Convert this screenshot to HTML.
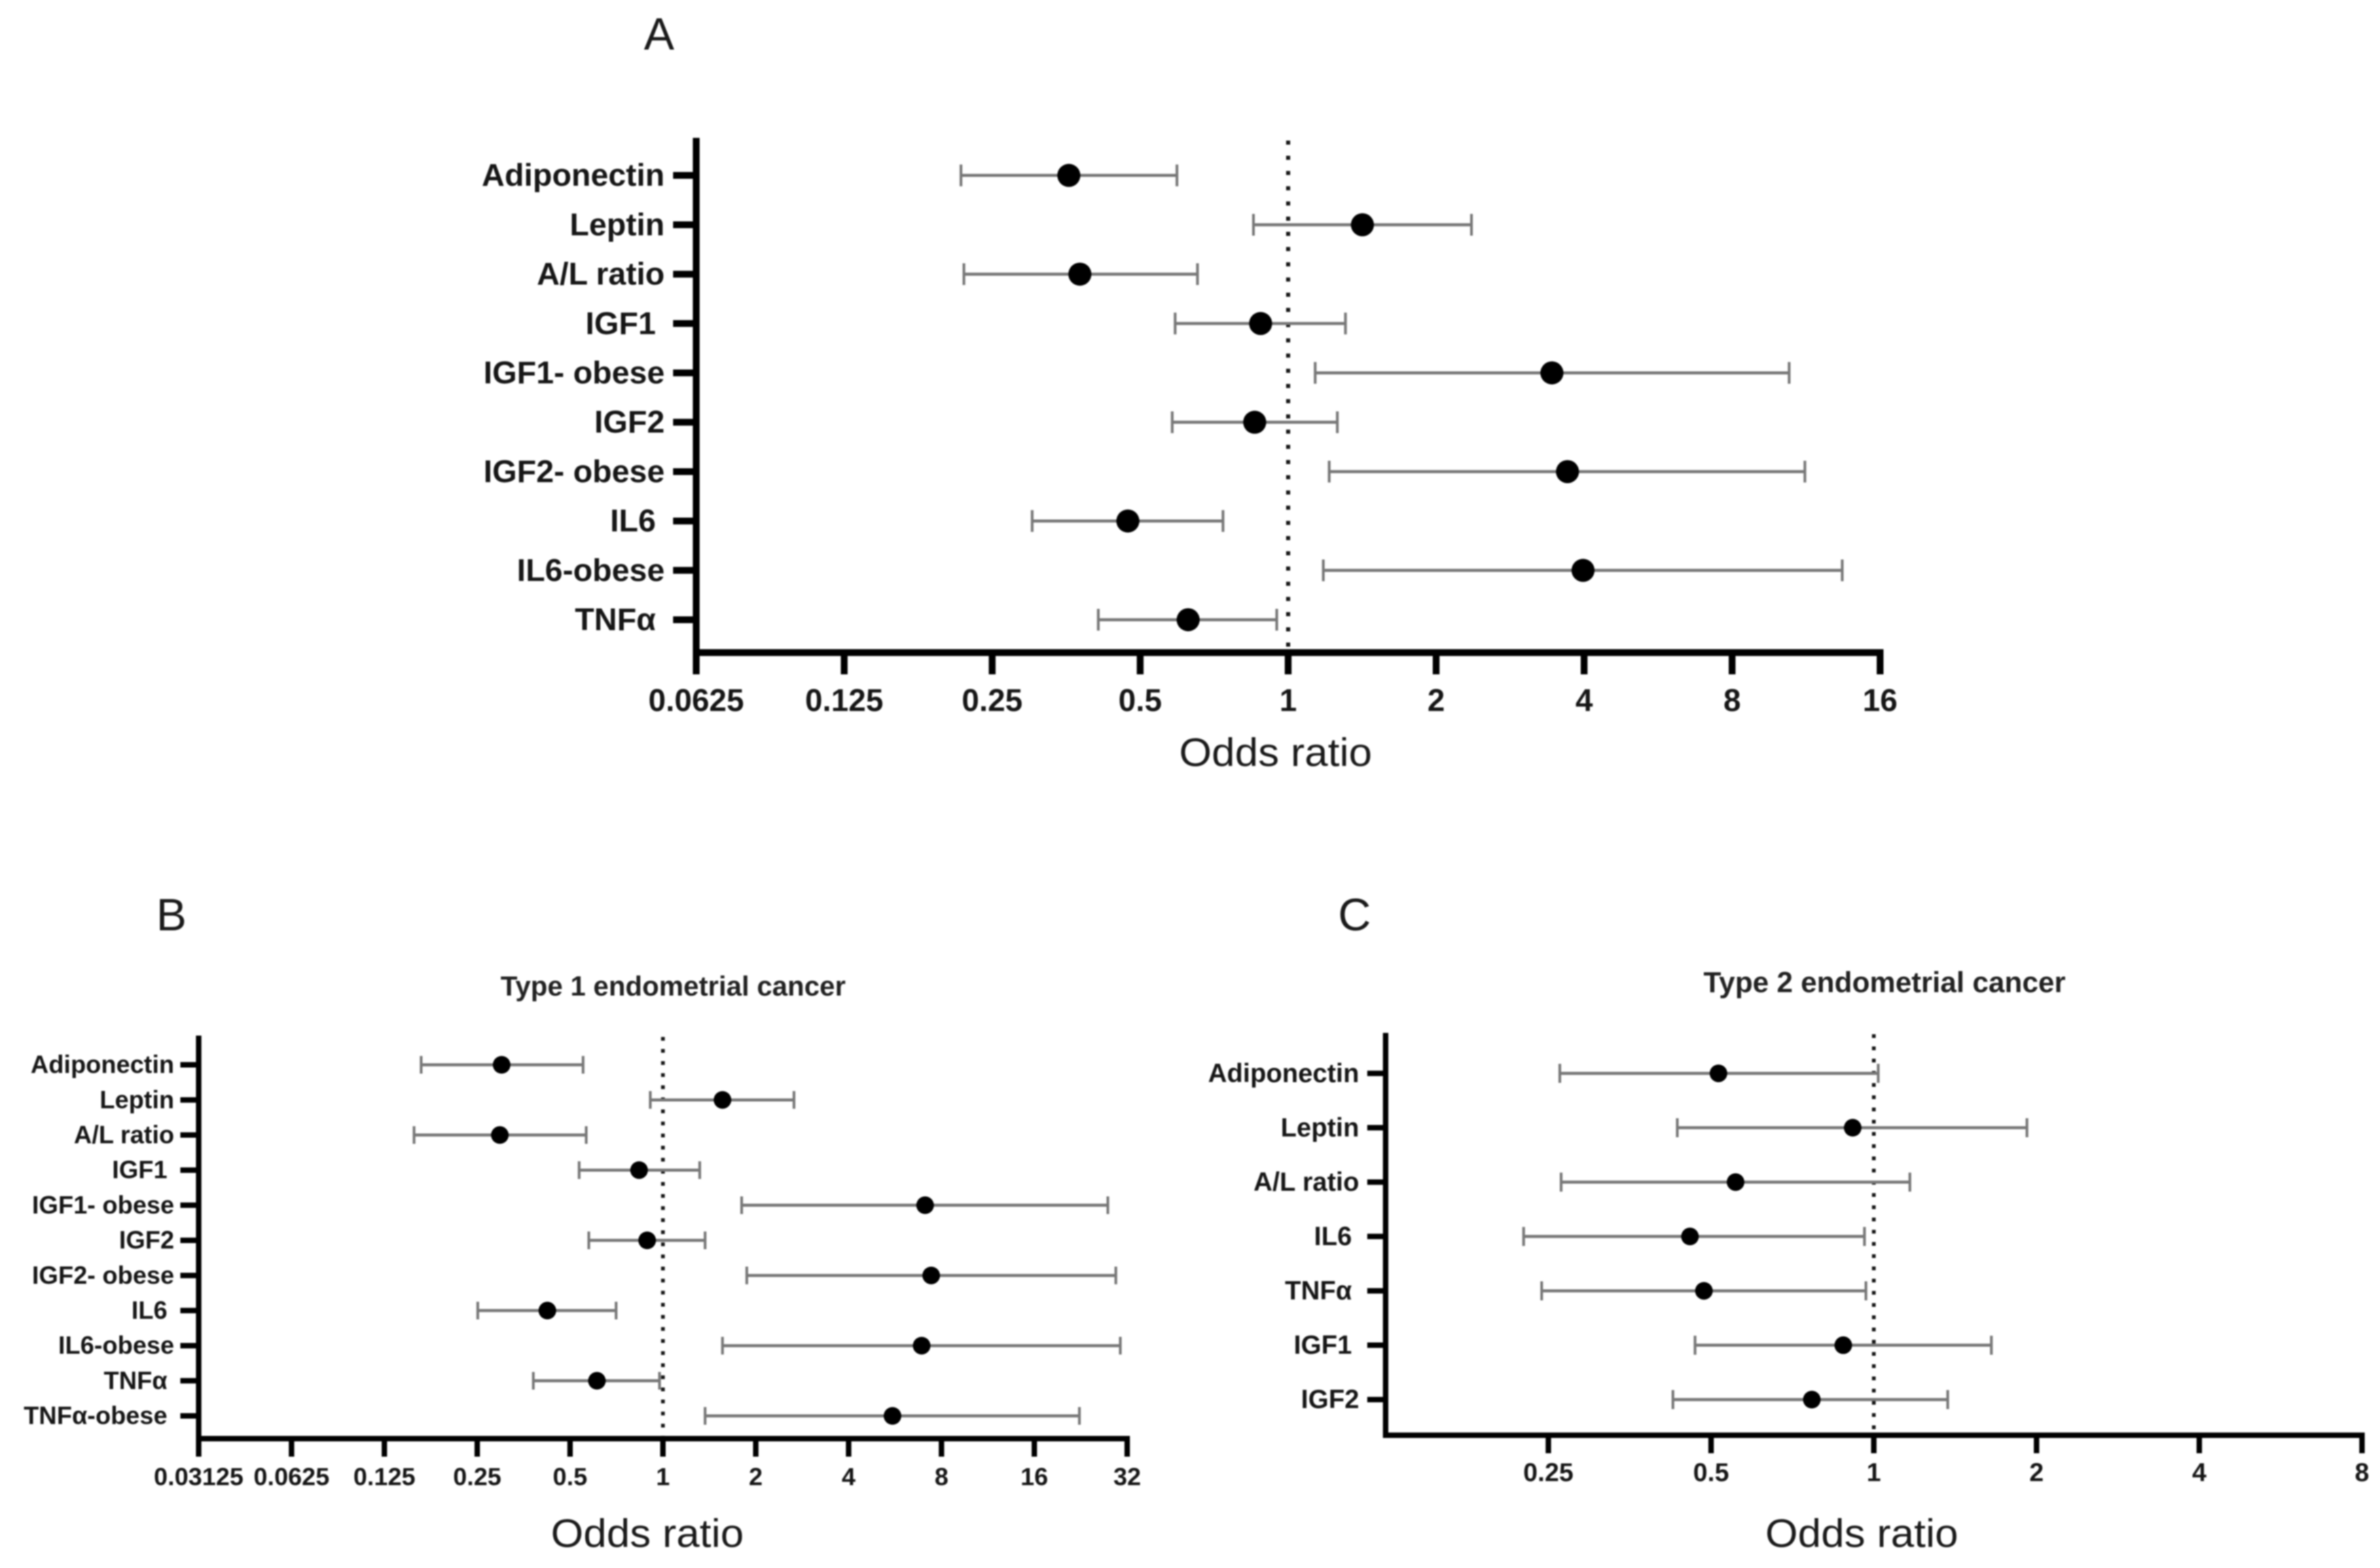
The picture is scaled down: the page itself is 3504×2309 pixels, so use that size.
<!DOCTYPE html>
<html lang="en">
<head>
<meta charset="utf-8">
<title>Odds ratio forest plots</title>
<style>
html,body{margin:0;padding:0;background:#fff;}
body{width:3504px;height:2309px;overflow:hidden;}
svg{display:block;filter:blur(1.1px);}
text{font-family:"Liberation Sans",sans-serif;}
.lab{font-weight:700;fill:#161616;}
.panel-letter{font-size:67px;fill:#1a1a1a;}
.odds{font-size:58px;fill:#1a1a1a;}
.title{font-weight:700;fill:#222;}
</style>
</head>
<body>
<svg id="fig" width="3504" height="2309" viewBox="0 0 3504 2309" xmlns="http://www.w3.org/2000/svg">
  <rect width="3504" height="2309" fill="#fff"/>
  <text class="panel-letter" x="948" y="73">A</text>
  <text class="panel-letter" x="230" y="1370">B</text>
  <text class="panel-letter" x="1970" y="1370">C</text>
  <text class="title" font-size="40.5" x="737" y="1466">Type 1 endometrial cancer</text>
  <text class="title" font-size="42.5" x="2508" y="1461">Type 2 endometrial cancer</text>
  <text class="odds" x="1736" y="1128" textLength="284" lengthAdjust="spacingAndGlyphs">Odds ratio</text>
  <text class="odds" x="811" y="2278" textLength="284" lengthAdjust="spacingAndGlyphs">Odds ratio</text>
  <text class="odds" x="2599" y="2278" textLength="284" lengthAdjust="spacingAndGlyphs">Odds ratio</text>
</svg>
<script>
// Panel A data
const aCategories = ["Adiponectin","Leptin","A/L ratio","IGF1\u00A0","IGF1- obese","IGF2","IGF2- obese","IL6\u00A0","IL6-obese","TNF\u03B1\u00A0"];
const aOdds = [0.358,1.416,0.377,0.879,3.44,0.855,3.70,0.472,3.98,0.626];
const aLow  = [0.216,0.85,0.219,0.589,1.135,0.581,1.212,0.3015,1.179,0.411];
const aHigh = [0.594,2.36,0.654,1.308,10.45,1.259,11.25,0.737,13.4,0.948];
const aTickValues = [0.0625,0.125,0.25,0.5,1,2,4,8,16];
const aTickLabels = ["0.0625","0.125","0.25","0.5","1","2","4","8","16"];

// Panel B data
const bCategories = ["Adiponectin","Leptin","A/L ratio","IGF1\u00A0","IGF1- obese","IGF2","IGF2- obese","IL6\u00A0","IL6-obese","TNF\u03B1\u00A0","TNF\u03B1-obese\u00A0"];
const bOdds = [0.3,1.56,0.296,0.837,7.08,0.889,7.41,0.422,6.9,0.611,5.55];
const bLow  = [0.1645,0.91,0.156,0.535,1.8,0.575,1.87,0.251,1.56,0.38,1.37];
const bHigh = [0.551,2.66,0.564,1.316,27.7,1.37,29.4,0.705,30.4,0.975,22.4];
const bTickValues = [0.03125,0.0625,0.125,0.25,0.5,1,2,4,8,16,32];
const bTickLabels = ["0.03125","0.0625","0.125","0.25","0.5","1","2","4","8","16","32"];

// Panel C data
const cCategories = ["Adiponectin","Leptin","A/L ratio","IL6\u00A0","TNF\u03B1\u00A0","IGF1\u00A0","IGF2"];
const cOdds = [0.516,0.914,0.555,0.457,0.485,0.878,0.768];
const cLow  = [0.2625,0.433,0.264,0.225,0.243,0.467,0.425];
const cHigh = [1.019,1.92,1.166,0.961,0.967,1.65,1.37];
const cTickValues = [0.25,0.5,1,2,4,8];
const cTickLabels = ["0.25","0.5","1","2","4","8"];

const SVG_NS = "http://www.w3.org/2000/svg";
const fig = document.getElementById("fig");

function make(parent, tag, attrs, txt) {
  const node = document.createElementNS(SVG_NS, tag);
  for (const k in attrs) node.setAttribute(k, attrs[k]);
  if (txt !== undefined) node.textContent = txt;
  parent.appendChild(node);
  return node;
}

function slug(s) {
  return s.replace(/\u00A0/g, "").replace(/\u03B1/g, "a").replace(/[^A-Za-z0-9]+/g, "-").replace(/-+$/, "").toLowerCase();
}

function drawPanel(p) {
  const xScale = v => p.left + (Math.log2(v) - Math.log2(p.domainMin)) / (Math.log2(p.domainMax) - Math.log2(p.domainMin)) * (p.right - p.left);
  const yScale = i => p.firstRow + i * (p.lastRow - p.firstRow) / (p.categories.length - 1);

  const g = make(fig, "g", {});
  
  

  // reference line at OR = 1
  const ref = make(g, "line", {x1: xScale(1), x2: xScale(1), y1: p.refTop, y2: p.axisY, stroke: "#161616", "stroke-width": p.dotW, "stroke-dasharray": p.dotW + " " + (p.dotPeriod - p.dotW)});
  
  

  // whiskers and markers
  p.categories.forEach((cat, i) => {
    const y = yScale(i);
    const row = make(g, "g", {});
    
    

    const whisker = make(row, "line", {x1: xScale(p.low[i]), x2: xScale(p.high[i]), y1: y, y2: y, stroke: "#787878", "stroke-width": 4.5});
    
    

    const capLow = make(row, "line", {x1: xScale(p.low[i]), x2: xScale(p.low[i]), y1: y - p.capHalf, y2: y + p.capHalf, stroke: "#787878", "stroke-width": 4});
    
    

    const capHigh = make(row, "line", {x1: xScale(p.high[i]), x2: xScale(p.high[i]), y1: y - p.capHalf, y2: y + p.capHalf, stroke: "#787878", "stroke-width": 4});
    
    

    const dot = make(row, "circle", {cx: xScale(p.odds[i]), cy: y, r: p.markerR, fill: "#000"});
    
    

    const tick = make(g, "line", {x1: p.left - p.tickLen, x2: p.left, y1: y, y2: y, stroke: "#000", "stroke-width": p.axisW});
    
    

    const label = make(g, "text", {x: p.labelRight, y: y + p.labelFont * 0.33, "text-anchor": "end", "font-size": p.labelFont, "class": "lab"}, cat);
    
    
  });

  // y axis
  const yAxis = make(g, "line", {x1: p.left, x2: p.left, y1: p.top, y2: p.axisY + p.axisW / 2, stroke: "#000", "stroke-width": p.axisW});
  
  

  // x axis
  const xAxis = make(g, "line", {x1: p.left - p.axisW / 2, x2: p.right + p.axisW / 2, y1: p.axisY, y2: p.axisY, stroke: "#000", "stroke-width": p.axisW});
  
  

  // x ticks
  p.tickValues.forEach((v, i) => {
    const x = xScale(v);
    const tick = make(g, "line", {x1: x, x2: x, y1: p.axisY, y2: p.xTickBottom, stroke: "#000", "stroke-width": p.axisW});
    
    

    const label = make(g, "text", {x: x, y: p.tickBaseline, "text-anchor": "middle", "font-size": p.tickFont, "class": "lab"}, p.tickLabels[i]);
    
    
  });
}

drawPanel({id: "panel-a", categories: aCategories, odds: aOdds, low: aLow, high: aHigh, tickValues: aTickValues, tickLabels: aTickLabels,
  domainMin: 0.0625, domainMax: 16, left: 1025, right: 2768, top: 203, axisY: 961, firstRow: 258.3, lastRow: 912.6,
  axisW: 10, tickLen: 34, xTickBottom: 993, capHalf: 16, markerR: 17, labelFont: 46.6, tickFont: 46, labelRight: 978.5, tickBaseline: 1047,
  refTop: 207, dotW: 6, dotPeriod: 22.4});

drawPanel({id: "panel-b", categories: bCategories, odds: bOdds, low: bLow, high: bHigh, tickValues: bTickValues, tickLabels: bTickLabels,
  domainMin: 0.03125, domainMax: 32, left: 292.5, right: 1659.5, top: 1525, axisY: 2118.5, firstRow: 1568, lastRow: 2085,
  axisW: 8, tickLen: 27, xTickBottom: 2145, capHalf: 13, markerR: 13, labelFont: 36.6, tickFont: 36.5, labelRight: 256.5, tickBaseline: 2187,
  refTop: 1527, dotW: 5.5, dotPeriod: 17.8});

drawPanel({id: "panel-c", categories: cCategories, odds: cOdds, low: cLow, high: cHigh, tickValues: cTickValues, tickLabels: cTickLabels,
  domainMin: 0.125, domainMax: 8, left: 2040, right: 3477.5, top: 1521, axisY: 2113.5, firstRow: 1580.6, lastRow: 2061,
  axisW: 8, tickLen: 27, xTickBottom: 2140, capHalf: 14, markerR: 13, labelFont: 38.5, tickFont: 38, labelRight: 2001, tickBaseline: 2181,
  refTop: 1523, dotW: 5.5, dotPeriod: 18});
</script>
</body>
</html>
